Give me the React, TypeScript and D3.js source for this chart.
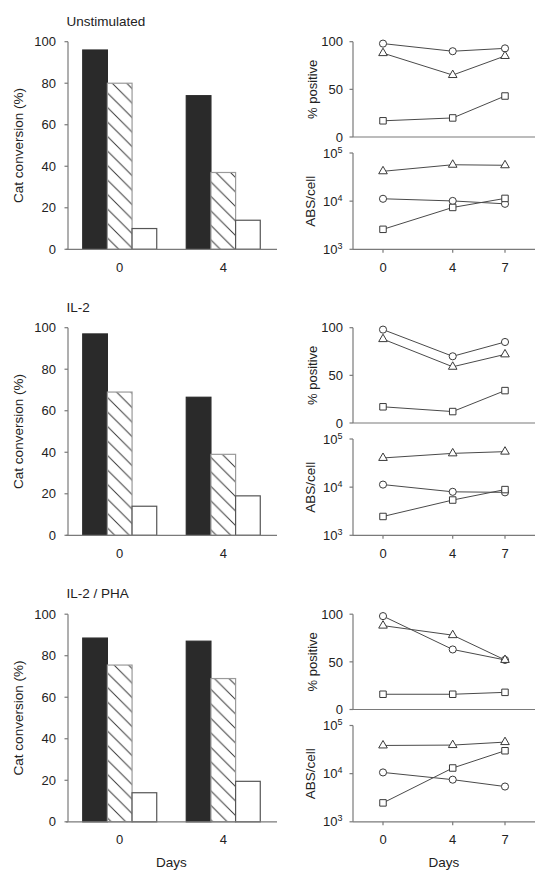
import React from "react";
import * as d3 from "d3";

// ---- data ----
const panelTitles = ["Unstimulated", "IL-2", "IL-2 / PHA"];
const barDays = ["0", "4"];
const barSeries = ["solid", "hatched", "open"];
// Cat conversion (%) per panel: [day][series]
const catUnstimulated = [[96, 80, 10], [74, 37, 14]];
const catIL2 = [[97, 69, 14], [66.5, 39, 19]];
const catIL2PHA = [[88.5, 75.5, 14], [87, 69, 19.5]];

const lineDays = [0, 4, 7];
// % positive
const pctCircle = [[98, 90, 93], [98, 70, 85], [98, 63, 52]];
const pctTriangle = [[88, 65, 85], [88, 59, 72], [88, 78, 52]];
const pctSquare = [[17, 20, 43], [17, 12, 34], [16, 16, 18]];
// ABS/cell
const absTriangle = [[41700, 57000, 55600], [40400, 50300, 54600], [38500, 39200, 45200]];
const absCircle = [[11200, 10100, 8800], [11300, 8000, 7800], [10600, 7500, 5400]];
const absSquare = [[2600, 7400, 11400], [2460, 5400, 8900], [2470, 13100, 29900]];

const barTicks = [0, 20, 40, 60, 80, 100];
const pctTicks = [0, 50, 100];
const logTicks = [3, 4, 5];

// ---- layout ----
const W = 542, H = 877;
const rowTops = [41.7, 327.7, 614.2];
const rowH = 207.6;
const FONT = "'Liberation Sans', Arial, Helvetica, sans-serif";
const AX = "#7a7a7a";
const TXT = "#222";
const HS = 14.5;

const catData = [catUnstimulated, catIL2, catIL2PHA];

const symCircle = d3.symbol().type(d3.symbolCircle).size(40)() as string;
const symSquare = d3.symbol().type(d3.symbolSquare).size(42)() as string;
const symTriangle = d3.symbol().type(d3.symbolTriangle).size(32)() as string;

function BarPanel({ idx }: { idx: number }) {
  const top = rowTops[idx];
  const y = d3.scaleLinear().domain([0, 100]).range([top + rowH, top]);
  const x = d3.scalePoint().domain(barDays).range([66, 277]).padding(0.519);
  const inner = d3.scaleBand().domain(barSeries).range([-37, 37]).padding(0);
  const axX = 68;
  const data = catData[idx];
  return (
    <g>
      <text x={66.5} y={top - 16} fontSize={13.5} fill={TXT} fontFamily={FONT}>
        {panelTitles[idx]}
      </text>
      {barDays.map((d, di) =>
        barSeries.map((s, si) => {
          const v = data[di][si];
          const x0 = (x(d) as number) + (inner(s) as number);
          const w = inner.bandwidth();
          const fill = s === "solid" ? "#2a2a2a" : s === "hatched" ? "url(#hatch)" : "#fff";
          const stroke = s === "solid" ? "#2a2a2a" : s === "hatched" ? "#9a9a9a" : "#555";
          return (
            <rect
              key={d + s}
              x={x0}
              y={y(v)}
              width={w}
              height={y(0) - y(v)}
              fill={fill}
              stroke={stroke}
              strokeWidth={1.2}
            />
          );
        })
      )}
      <line x1={axX} x2={axX} y1={y(100)} y2={y(0)} stroke={AX} strokeWidth={1.2} />
      <line x1={66} x2={277} y1={y(0)} y2={y(0)} stroke={AX} strokeWidth={1.2} />
      {barTicks.map((t) => (
        <g key={t}>
          <line x1={axX - 3.5} x2={axX} y1={y(t)} y2={y(t)} stroke={AX} strokeWidth={1.2} />
          <text x={56} y={y(t)} dy="0.36em" textAnchor="end" fontSize={13} fill={TXT} fontFamily={FONT}>
            {t}
          </text>
        </g>
      ))}
      {barDays.map((d) => (
        <text key={d} x={x(d)} y={y(0) + 22.5} textAnchor="middle" fontSize={13} fill={TXT} fontFamily={FONT}>
          {d}
        </text>
      ))}
      <text
        transform={`translate(18.5,${top + rowH / 2}) rotate(-90)`}
        textAnchor="middle"
        dominantBaseline="central"
        fontSize={13.5}
        fill={TXT}
        fontFamily={FONT}
      >
        Cat conversion (%)
      </text>
    </g>
  );
}

function Markers({ pts, path }: { pts: [number, number][]; path: string }) {
  return (
    <g>
      {pts.map((p, i) => (
        <path key={i} d={path} transform={`translate(${p[0]},${p[1]})`} fill="#fff" stroke="#3a3a3a" strokeWidth={1} />
      ))}
    </g>
  );
}

function LinePanel({ idx }: { idx: number }) {
  const top = rowTops[idx];
  const x = d3.scaleLinear().domain([0, 7]).range([383, 505]);
  const yp = d3.scaleLinear().domain([0, 100]).range([top + 95.3, top]);
  const yl = d3.scaleLog().domain([1e3, 1e5]).range([top + rowH, top + 111.3]);
  const axX = 353;
  const line = d3.line<[number, number]>().x((d) => d[0]).y((d) => d[1]);
  const ptsP = (vals: number[]) => lineDays.map((d, i) => [x(d), yp(vals[i])] as [number, number]);
  const ptsL = (vals: number[]) => lineDays.map((d, i) => [x(d), yl(vals[i])] as [number, number]);
  const series = [
    { p: ptsP(pctCircle[idx]), s: symCircle },
    { p: ptsP(pctTriangle[idx]), s: symTriangle },
    { p: ptsP(pctSquare[idx]), s: symSquare },
    { p: ptsL(absTriangle[idx]), s: symTriangle },
    { p: ptsL(absCircle[idx]), s: symCircle },
    { p: ptsL(absSquare[idx]), s: symSquare },
  ];
  return (
    <g>
      <line x1={axX} x2={axX} y1={yp(100)} y2={yp(0)} stroke={AX} strokeWidth={1.2} />
      <line x1={axX} x2={535} y1={yp(0)} y2={yp(0)} stroke={AX} strokeWidth={1.2} />
      <line x1={axX} x2={axX} y1={yl(1e5)} y2={yl(1e3)} stroke={AX} strokeWidth={1.2} />
      <line x1={axX} x2={535} y1={yl(1e3)} y2={yl(1e3)} stroke={AX} strokeWidth={1.2} />
      {pctTicks.map((t) => (
        <g key={t}>
          <line x1={axX - 3.5} x2={axX} y1={yp(t)} y2={yp(t)} stroke={AX} strokeWidth={1.2} />
          <text x={343} y={yp(t)} dy="0.36em" textAnchor="end" fontSize={13} fill={TXT} fontFamily={FONT}>
            {t}
          </text>
        </g>
      ))}
      {logTicks.map((e) => {
        const yy = yl(Math.pow(10, e));
        return (
          <g key={e}>
            <line x1={axX - 3.5} x2={axX} y1={yy} y2={yy} stroke={AX} strokeWidth={1.2} />
            <text x={323} y={yy} dy="0.36em" fontSize={13} fill={TXT} fontFamily={FONT}>
              10
              <tspan fontSize={9} dy="-5">{e}</tspan>
            </text>
          </g>
        );
      })}
      {lineDays.map((d) => (
        <g key={d}>
          <line x1={x(d)} x2={x(d)} y1={yl(1e3)} y2={yl(1e3) + 3.5} stroke={AX} strokeWidth={1.2} />
          <text x={x(d)} y={yl(1e3) + 22.5} textAnchor="middle" fontSize={13} fill={TXT} fontFamily={FONT}>
            {d}
          </text>
        </g>
      ))}
      <text
        transform={`translate(312,${(yp(100) + yp(0)) / 2}) rotate(-90)`}
        textAnchor="middle"
        dominantBaseline="central"
        fontSize={13}
        fill={TXT}
        fontFamily={FONT}
      >
        % positive
      </text>
      <text
        transform={`translate(310,${(yl(1e5) + yl(1e3)) / 2}) rotate(-90)`}
        textAnchor="middle"
        dominantBaseline="central"
        fontSize={13.5}
        fill={TXT}
        fontFamily={FONT}
      >
        ABS/cell
      </text>
      {series.map((s, i) => (
        <path key={"l" + i} d={line(s.p) as string} fill="none" stroke="#4a4a4a" strokeWidth={1} />
      ))}
      {series.map((s, i) => (
        <Markers key={"m" + i} pts={s.p} path={s.s} />
      ))}
    </g>
  );
}

export default function App() {
  return (
    <svg
      width={W}
      height={H}
      viewBox={`0 0 ${W} ${H}`}
      style={{ position: "absolute", left: 0, top: 0, background: "#fff" }}
    >
      <defs>
        <pattern id="hatch" patternUnits="userSpaceOnUse" width={HS} height={HS}>
          <rect width={HS} height={HS} fill="#fff" />
          <path
            d={`M-4,-4 L${HS + 4},${HS + 4} M-4,${HS - 4} L4,${HS + 4} M${HS - 4},-4 L${HS + 4},4`}
            stroke="#3a3a3a"
            strokeWidth={1}
          />
        </pattern>
      </defs>
      <rect width={W} height={H} fill="#fff" />
      {[0, 1, 2].map((i) => (
        <BarPanel key={"b" + i} idx={i} />
      ))}
      {[0, 1, 2].map((i) => (
        <LinePanel key={"l" + i} idx={i} />
      ))}
      <text x={171.5} y={866.5} textAnchor="middle" fontSize={13.5} fill={TXT} fontFamily={FONT}>
        Days
      </text>
      <text x={444} y={866.5} textAnchor="middle" fontSize={13.5} fill={TXT} fontFamily={FONT}>
        Days
      </text>
    </svg>
  );
}
